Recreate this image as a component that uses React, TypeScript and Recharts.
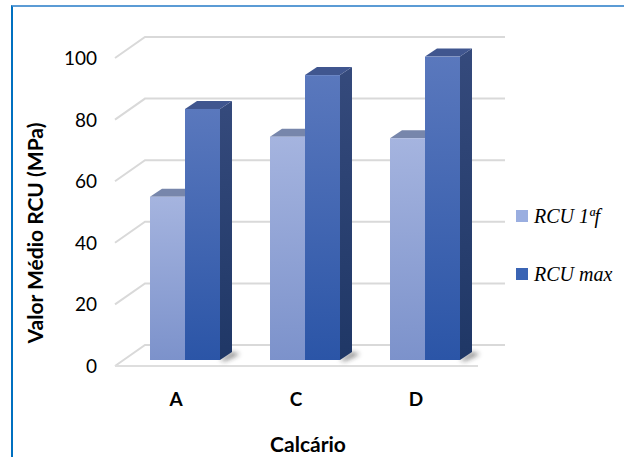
import React from 'react';
import { BarChart, Bar, XAxis, YAxis, CartesianGrid } from 'recharts';

const categories = ['A', 'C', 'D'];
const rcuFirst = [53, 72.5, 72];
const rcuMax = [81.5, 92.5, 98.5];
const yTicks = [0, 20, 40, 60, 80, 100];

const data = categories.map((name, i) => ({ name, rcuFirst: rcuFirst[i], rcuMax: rcuMax[i] }));

const W = 624;
const H = 457;
const MARGIN = { top: 52, right: 139, bottom: 0, left: 65 };
const X_AXIS_H = 97;
const PLOT_BOTTOM = H - MARGIN.bottom - X_AXIS_H;

// depth of the floor / back wall and of the prisms
const WALL_DY = 21;
const BAR_DX = 12;
const BAR_DY = 8;

const SERIES = {
  rcuFirst: {
    label: 'RCU 1ªf',
    legend: '#9aaee0',
    frontTop: '#a5b4df',
    frontBottom: '#7c92cb',
    top: '#7786ab',
    sideTop: '#5f6f99',
    sideBottom: '#4a5a85',
  },
  rcuMax: {
    label: 'RCU max',
    legend: '#3a64b4',
    frontTop: '#5a78bd',
    frontBottom: '#2b55a7',
    top: '#40568f',
    sideTop: '#354a7c',
    sideBottom: '#1f3766',
  },
};

const sans = 'Lato, "Open Sans", sans-serif';

function makePrism(key: keyof typeof SERIES) {
  const c = SERIES[key];
  return (props: any) => {
    const { x, y, width, height, index } = props;
    if (height == null || width == null) return null;
    const gid = `front-${key}-${index}`;
    const sid = `side-${key}-${index}`;
    const blur = `shadow-${key}-${index}`;
    const b = y + height;
    const r = x + width;
    return (
      <g>
        <defs>
          <linearGradient id={gid} x1="0" y1="0" x2="0" y2="1">
            <stop offset="0%" stopColor={c.frontTop} />
            <stop offset="100%" stopColor={c.frontBottom} />
          </linearGradient>
          <linearGradient id={sid} x1="0" y1="0" x2="0" y2="1">
            <stop offset="0%" stopColor={c.sideTop} />
            <stop offset="100%" stopColor={c.sideBottom} />
          </linearGradient>
          <filter id={blur} x="-50%" y="-50%" width="200%" height="200%">
            <feGaussianBlur stdDeviation="2.5" />
          </filter>
        </defs>
        {key === 'rcuMax' && (
          <polygon
            points={`${r},${b} ${r + BAR_DX},${b - BAR_DY} ${r + BAR_DX + 8},${b - BAR_DY + 2} ${r + 5},${b + 1}`}
            fill="#222"
            opacity={0.55}
            filter={`url(#${blur})`}
          />
        )}
        <polygon
          points={`${r},${y} ${r + BAR_DX},${y - BAR_DY} ${r + BAR_DX},${b - BAR_DY} ${r},${b}`}
          fill={`url(#${sid})`}
        />
        <polygon
          points={`${x},${y} ${x + BAR_DX},${y - BAR_DY} ${r + BAR_DX},${y - BAR_DY} ${r},${y}`}
          fill={c.top}
        />
        <rect x={x} y={y} width={width} height={height} fill={`url(#${gid})`} />
      </g>
    );
  };
}

// each horizontal grid line: a run along the back wall plus a diagonal down to the front edge
function wallLine(props: any) {
  const { x1, x2, y1, key } = props;
  const back = y1 - 15;
  const front = back + WALL_DY;
  const isFloor = Math.abs(y1 - PLOT_BOTTOM) < 1;
  return (
    <g key={key}>
      <polyline
        points={`${x1 - 10},${front} ${x1 + 20},${back} ${x2 + 20},${back}`}
        fill="none"
        stroke="#d9d9d9"
        strokeWidth={2}
      />
      {isFloor && (
        <line x1={x1 - 10} y1={front} x2={x2 - 7} y2={front} stroke="#dedede" strokeWidth={2} />
      )}
    </g>
  );
}

function YTick(props: any) {
  const { y, payload } = props;
  return (
    <text x={97} y={y + 5.5} textAnchor="end" dominantBaseline="central" fill="#000" fontFamily={sans} fontSize={19}>
      {payload.value}
    </text>
  );
}

function XTick(props: any) {
  const { x, payload } = props;
  return (
    <text x={x - 9} y={398} textAnchor="middle" dominantBaseline="central" fill="#000" fontFamily={sans} fontWeight={700} fontSize={19}>
      {payload.value}
    </text>
  );
}

function YTitle(props: any) {
  const vb = props.viewBox || { y: 0, height: 0 };
  const cy = vb.y + vb.height / 2 + 27;
  return (
    <text
      transform={`translate(34, ${cy}) rotate(-90)`}
      textAnchor="middle"
      dominantBaseline="central"
      fill="#000"
      fontFamily={sans}
      fontWeight={700}
      fontSize={21}
    >
      Valor Médio RCU (MPa)
    </text>
  );
}

function XTitle(props: any) {
  const vb = props.viewBox || { x: 0, width: 0 };
  return (
    <text
      x={vb.x + vb.width / 2 + 3}
      y={443}
      textAnchor="middle"
      dominantBaseline="central"
      fill="#000"
      fontFamily={sans}
      fontWeight={700}
      fontSize={21}
    >
      Calcário
    </text>
  );
}

export default function App() {
  const legendKeys: (keyof typeof SERIES)[] = ['rcuFirst', 'rcuMax'];
  return (
    <div style={{ position: 'relative', width: W, height: H, background: '#fff', overflow: 'hidden' }}>
      <style>{'body{margin:0}'}</style>
      <div
        style={{
          position: 'absolute',
          left: 11,
          top: 5,
          width: W,
          height: H,
          borderTop: '2px solid #5b9bd5',
          borderLeft: '2px solid #0070c0',
        }}
      />
      <BarChart width={W} height={H} data={data} margin={MARGIN} barCategoryGap={25} barGap={0}>
        <CartesianGrid vertical={false} horizontal={wallLine} />
        <XAxis
          dataKey="name"
          height={X_AXIS_H}
          axisLine={false}
          tickLine={false}
          tick={<XTick />}
          label={{ content: <XTitle /> }}
        />
        <YAxis
          width={60}
          domain={[0, 100]}
          ticks={yTicks}
          axisLine={false}
          tickLine={false}
          tick={<YTick />}
          label={{ content: <YTitle /> }}
        />
        <Bar dataKey="rcuFirst" name={SERIES.rcuFirst.label} shape={makePrism('rcuFirst')} isAnimationActive={false} />
        <Bar dataKey="rcuMax" name={SERIES.rcuMax.label} shape={makePrism('rcuMax')} isAnimationActive={false} />
      </BarChart>
      {legendKeys.map((k, i) => (
        <div
          key={k}
          style={{
            position: 'absolute',
            left: 516,
            top: 204 + i * 58,
            display: 'flex',
            alignItems: 'center',
            fontFamily: '"Liberation Serif", serif',
            fontStyle: 'italic',
            fontSize: 20,
            lineHeight: '24px',
            color: '#000',
          }}
        >
          <span style={{ width: 12, height: 12, background: SERIES[k].legend, marginRight: 6, display: 'inline-block' }} />
          {SERIES[k].label}
        </div>
      ))}
    </div>
  );
}
